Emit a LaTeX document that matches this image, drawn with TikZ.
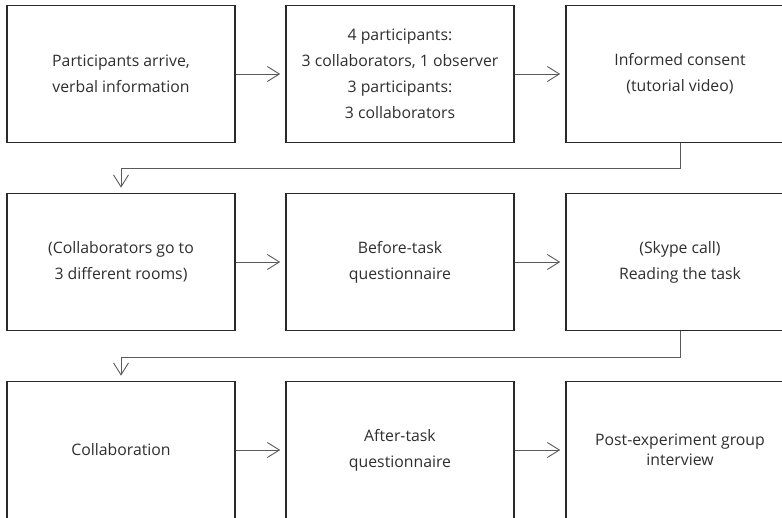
\documentclass[tikz,border=0pt]{standalone}
\usepackage{fontspec}
\setmainfont{Open Sans}
\usetikzlibrary{arrows.meta}
\definecolor{boxline}{HTML}{2A2A2A}
\definecolor{txt}{HTML}{2E2E2E}
\definecolor{conn}{HTML}{5A5A5A}
\begin{document}
\begin{tikzpicture}[x=1pt,y=-1pt,
  stepbox/.style={draw=boxline,line width=1.6pt,minimum width=228pt,minimum height=137pt,
    inner sep=0pt,align=center,text=txt,font=\fontsize{15.8}{26}\selectfont},
  flow/.style={draw=conn,line width=0.9pt,-{Straight Barb[length=12pt,width=15pt,line width=0.9pt]}}]
\useasboundingbox (0,0) rectangle (782,518);
\clip (0,0) rectangle (782,518);
\node[stepbox] (a) at (121,74) {Participants arrive,\\verbal information};
\node[stepbox] (b) at (400,74) {4 participants:\\3 collaborators, 1 observer\\3 participants:\\3 collaborators};
\node[stepbox] (c) at (680,74) {Informed consent\\(tutorial video)};
\node[stepbox] (d) at (121,262) {(Collaborators go to\\3 different rooms)};
\node[stepbox] (e) at (400,262) {Before-task\\questionnaire};
\node[stepbox] (f) at (680,262) {(Skype call)\\Reading the task};
\node[stepbox] (g) at (121,450) {Collaboration};
\node[stepbox] (h) at (400,450) {After-task\\questionnaire};
\node[stepbox,font=\fontsize{15.8}{20}\selectfont] (i) at (680,450) {Post-experiment group\\interview};
\coordinate (c1) at (680,168);
\coordinate (c2) at (121,168);
\coordinate (f1) at (680,357);
\coordinate (f2) at (121,357);
\draw[flow,shorten >=5pt] (a) -- (b);
\draw[flow,shorten >=5pt] (b) -- (c);
\draw[flow,shorten >=5pt] (d) -- (e);
\draw[flow,shorten >=5pt] (e) -- (f);
\draw[flow,shorten >=5pt] (g) -- (h);
\draw[flow,shorten >=5pt] (h) -- (i);
\draw[flow,shorten >=5pt] (c.south) -- (c1) -- (c2) -- (d.north);
\draw[flow,shorten >=5pt] (f.south) -- (f1) -- (f2) -- (g.north);
\end{tikzpicture}
\end{document}
